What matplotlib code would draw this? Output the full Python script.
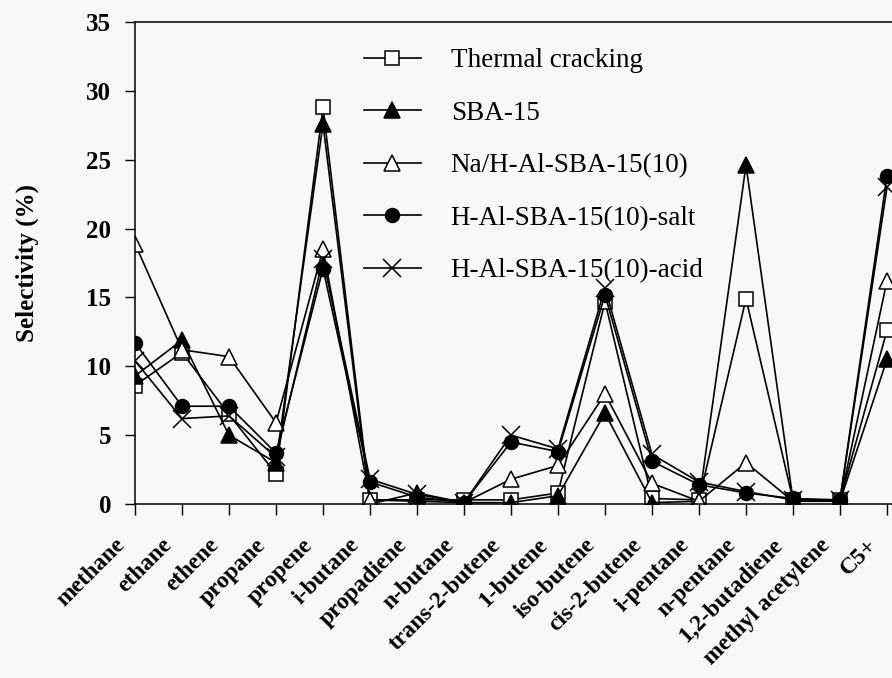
import matplotlib
matplotlib.use("Agg")
import matplotlib.pyplot as plt
import matplotlib.transforms as mtransforms

plt.rcParams["font.family"] = ["Liberation Serif", "DejaVu Serif"]

# product names along the x axis
categories = ["methane", "ethane", "ethene", "propane", "propene", "i-butane",
              "propadiene", "n-butane", "trans-2-butene", "1-butene", "iso-butene",
              "cis-2-butene", "i-pentane", "n-pentane", "1,2-butadiene",
              "methyl acetylene", "C5+"]

# selectivity (%)
thermal = [8.6, 11.0, 6.5, 2.2, 28.8, 0.3, 0.3, 0.3, 0.3, 0.8, 14.7, 0.4, 0.3, 14.9, 0.3, 0.3, 12.6]
sba15 = [9.3, 11.9, 5.0, 3.0, 27.6, 0.0, 0.8, 0.1, 0.1, 0.6, 6.6, 0.1, 0.2, 24.6, 0.3, 0.2, 10.5]
na_h = [18.9, 11.2, 10.7, 5.9, 18.5, 0.3, 0.2, 0.1, 1.8, 2.8, 8.0, 1.5, 0.2, 3.0, 0.2, 0.2, 16.2]
salt = [11.7, 7.1, 7.1, 3.7, 17.1, 1.6, 0.5, 0.1, 4.5, 3.8, 15.2, 3.1, 1.4, 0.8, 0.4, 0.3, 23.8]
acid = [10.4, 6.2, 6.4, 3.4, 17.8, 1.8, 0.7, 0.1, 5.0, 4.0, 15.7, 3.6, 1.6, 0.9, 0.3, 0.3, 23.0]

series_labels = ["Thermal cracking", "SBA-15", "Na/H-Al-SBA-15(10)",
                 "H-Al-SBA-15(10)-salt", "H-Al-SBA-15(10)-acid"]

fig = plt.figure(figsize=(8.92, 6.78), dpi=100, facecolor="#f7f7f6")
ax = fig.add_axes([135 / 892, 1 - 504 / 678, 1 - 135 / 892, (504 - 22) / 678])
ax.set_facecolor("#f7f7f6")

x = list(range(len(categories)))
lw = 1.2
common = dict(color="black", linewidth=lw, markeredgecolor="black", markeredgewidth=1.1)

ax.plot(x, thermal, marker="s", markersize=10, markerfacecolor="white",
        label=series_labels[0], **common)
ax.plot(x, sba15, marker="^", markersize=11, markerfacecolor="black",
        label=series_labels[1], **common)
ax.plot(x, na_h, marker="^", markersize=12, markerfacecolor="white",
        label=series_labels[2], **common)
ax.plot(x, salt, marker="o", markersize=10, markerfacecolor="black",
        label=series_labels[3], **common)
ax.plot(x, acid, marker="x", markersize=13, markeredgewidth=1.1, color="black",
        linewidth=lw, label=series_labels[4])

ax.set_xlim(0, 16 * (892 - 135) / (887 - 135))
ax.set_ylim(0, 35)
ax.set_yticks(range(0, 36, 5))
ax.set_xticks(x)
ax.set_xticklabels(categories, rotation=45, ha="right", va="top",
                   fontsize=17, fontweight="bold")
ax.tick_params(axis="x", direction="out", length=8, width=1, pad=14)
ax.tick_params(axis="y", direction="out", length=7, width=1, pad=10,
               labelsize=18)
for lab in ax.get_yticklabels():
    lab.set_fontweight("bold")

# nudge x labels a little left like the original
offset = mtransforms.ScaledTranslation(-6 / 100, 0, fig.dpi_scale_trans)
for lab in ax.get_xticklabels():
    lab.set_transform(lab.get_transform() + offset)

ax.spines["right"].set_visible(False)
for s in ["left", "top", "bottom"]:
    ax.spines[s].set_linewidth(1.1)

ax.set_ylabel("Selectivity (%)", fontsize=18, fontweight="bold", labelpad=34)

ax.legend(loc="upper left", bbox_to_anchor=(364 / 892, 1 - 48 / 678),
          bbox_transform=fig.transFigure, frameon=False, fontsize=19.5,
          handlelength=2.1, handletextpad=1.1, labelspacing=1.02,
          numpoints=1, borderpad=0, borderaxespad=0)

fig.savefig("out.png", dpi=100, facecolor=fig.get_facecolor())
